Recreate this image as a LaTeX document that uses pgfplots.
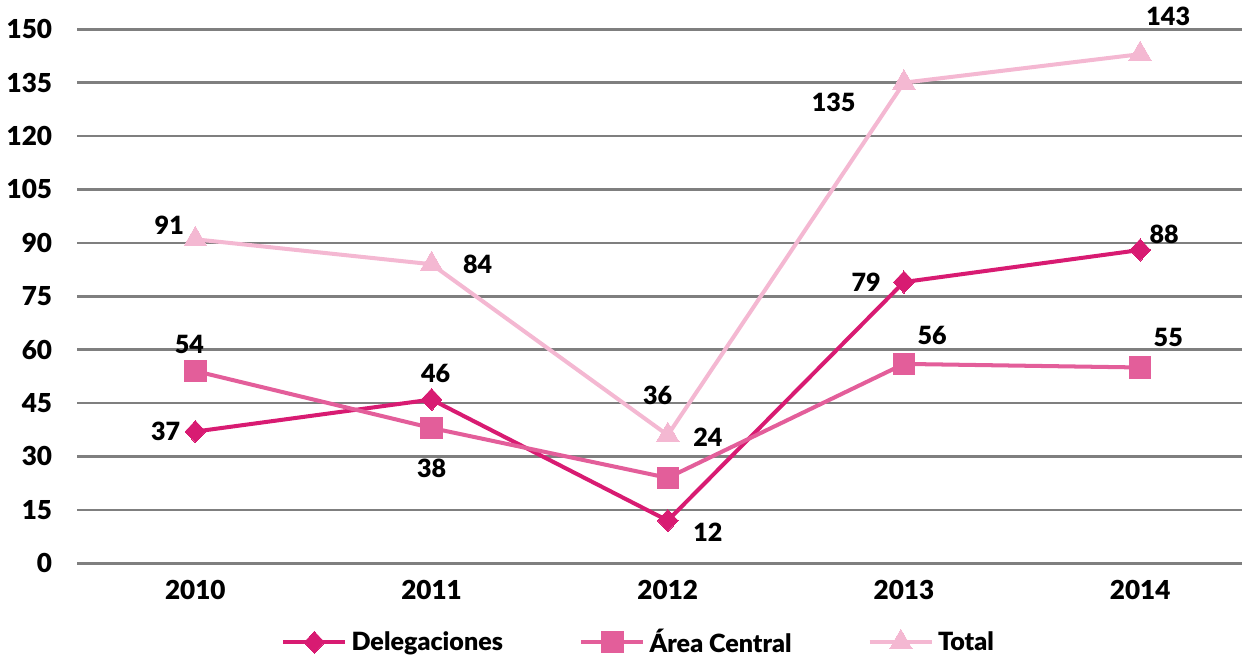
\documentclass[border=0pt]{standalone}
\usepackage{fontspec}
\setmainfont{Lato}[BoldFont={Lato Black}]
\usepackage{pgfplots}
\pgfplotsset{compat=1.18}

\definecolor{deleg}{HTML}{D81B72}
\definecolor{central}{HTML}{E35E9A}
\definecolor{total}{HTML}{F4B8D2}
\definecolor{gridc}{HTML}{7F7F7F}

\begin{document}
\begin{tikzpicture}[every node/.style={font=\fontsize{12.5}{14}\selectfont\bfseries}]
\begin{axis}[
  scale only axis,
  width=580pt, height=266pt,
  xmin=-0.5, xmax=4.43,
  ymin=0, ymax=150,
  clip=false,
  axis line style={draw=none},
  xtick={0,1,2,3,4},
  xticklabels={2010,2011,2012,2013,2014},
  ytick={0,15,...,150},
  major tick length=0pt,
  ymajorgrids,
  grid style={gridc, line width=1.3pt},
  tick label style={font=\fontsize{13}{15}\selectfont\bfseries},
  /pgf/number format/assume math mode=true,
  xticklabel style={yshift=-5pt},
  yticklabel style={xshift=-9pt},
  legend columns=3,
  legend style={at={(0.170,-0.148)}, anchor=west, draw=none, fill=none,
    inner ysep=0pt, outer sep=0pt,
    font=\fontsize{14.5}{16}\selectfont\bfseries,
    /tikz/every even column/.append style={column sep=36pt}},
  legend image code/.code={
    \draw[#1, mark repeat=2, mark phase=2] plot coordinates {(0pt,0pt) (15.5pt,0pt) (31pt,0pt)};},
]
\addplot[deleg, line width=2pt, mark=diamond*, mark size=5.5pt, mark options={fill=deleg, draw=deleg, line width=0pt, xscale=1.25}]
  coordinates {(0,37) (1,46) (2,12) (3,79) (4,88)};
\addlegendentry{Delegaciones}
\addplot[central, line width=2pt, mark=square*, mark size=5.3pt, mark options={fill=central, draw=central, line width=0pt}]
  coordinates {(0,54) (1,38) (2,24) (3,56) (4,55)};
\addlegendentry{Área Central}
\addplot[total, line width=2pt, mark=triangle*, mark size=6.5pt, mark options={fill=total, draw=total, line width=0pt}]
  coordinates {(0,91) (1,84) (2,36) (3,135) (4,143)};
\addlegendentry{Total}

% Delegaciones labels
\node[anchor=east] at (axis cs:0,37) [xshift=-4pt] {37};
\node[anchor=south] at (axis cs:1,46) [yshift=5pt,xshift=2pt] {46};
\node at (axis cs:2,12) [xshift=20pt,yshift=-6pt] {12};
\node[anchor=east] at (axis cs:3,79) [xshift=-8pt] {79};
\node at (axis cs:4,88) [xshift=12pt,yshift=8pt] {88};
% Área Central labels
\node at (axis cs:0,54) [yshift=13pt,xshift=-3pt] {54};
\node at (axis cs:1,38) [yshift=-20pt] {38};
\node at (axis cs:2,24) [xshift=20pt,yshift=20pt] {24};
\node at (axis cs:3,56) [xshift=14pt,yshift=14pt] {56};
\node at (axis cs:4,55) [xshift=14pt,yshift=15pt] {55};
% Total labels
\node at (axis cs:0,91) [xshift=-13pt,yshift=7pt] {91};
\node at (axis cs:1,84) [xshift=23pt] {84};
\node at (axis cs:2,36) [xshift=-5pt,yshift=20pt] {36};
\node at (axis cs:3,135) [xshift=-35pt,yshift=-10pt] {135};
\node at (axis cs:4,143) [xshift=14pt,yshift=19pt] {143};
\end{axis}
\end{tikzpicture}
\end{document}
